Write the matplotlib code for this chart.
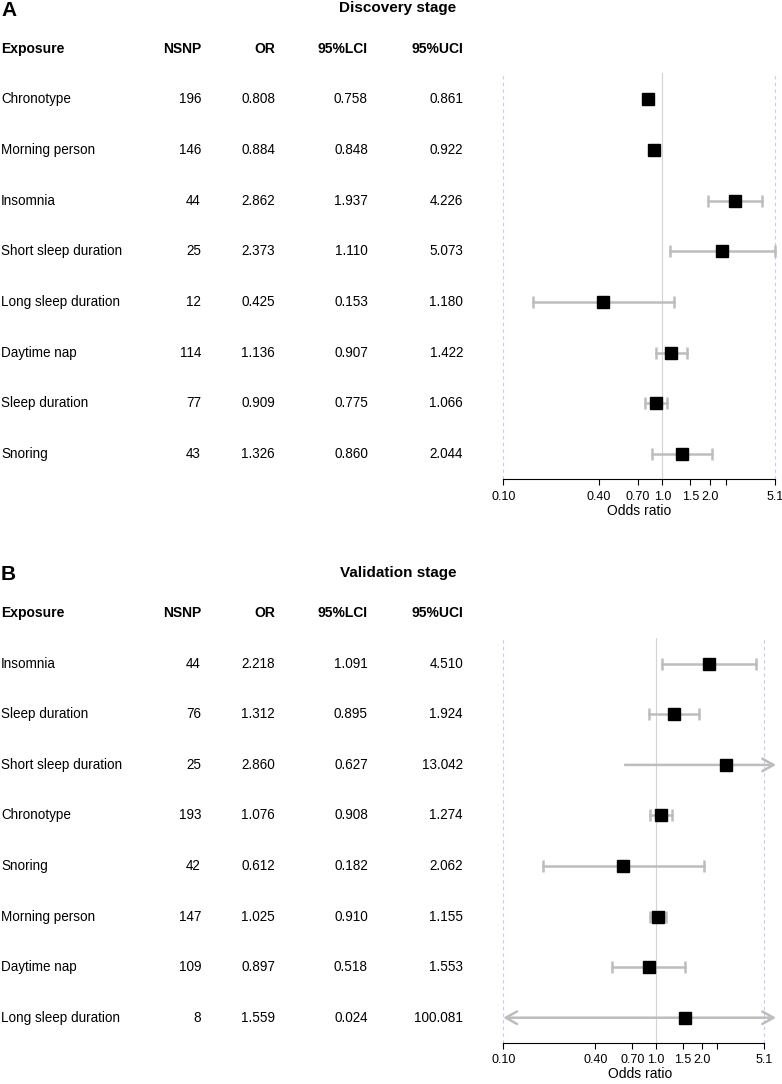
import numpy as np
import matplotlib
matplotlib.use("Agg")
import matplotlib.pyplot as plt
import matplotlib.transforms as mtransforms

plt.rcParams['font.family'] = ['Liberation Sans', 'DejaVu Sans']

# Discovery stage
exp_a = ["Chronotype", "Morning person", "Insomnia", "Short sleep duration",
         "Long sleep duration", "Daytime nap", "Sleep duration", "Snoring"]
nsnp_a = [196, 146, 44, 25, 12, 114, 77, 43]
or_a = [0.808, 0.884, 2.862, 2.373, 0.425, 1.136, 0.909, 1.326]
lci_a = [0.758, 0.848, 1.937, 1.110, 0.153, 0.907, 0.775, 0.860]
uci_a = [0.861, 0.922, 4.226, 5.073, 1.180, 1.422, 1.066, 2.044]

# Validation stage
exp_b = ["Insomnia", "Sleep duration", "Short sleep duration", "Chronotype",
         "Snoring", "Morning person", "Daytime nap", "Long sleep duration"]
nsnp_b = [44, 76, 25, 193, 42, 147, 109, 8]
or_b = [2.218, 1.312, 2.860, 1.076, 0.612, 1.025, 0.897, 1.559]
lci_b = [1.091, 0.895, 0.627, 0.908, 0.182, 0.910, 0.518, 0.024]
uci_b = [4.510, 1.924, 13.042, 1.274, 2.062, 1.155, 1.553, 100.081]

ticks = [0.10, 0.40, 0.70, 1.0, 1.5, 2.0, 2.5, 5.1]
tick_labels = ["0.10", "0.40", "0.70", "1.0", "1.5", "2.0", "", "5.1"]
x_lo, x_hi = 0.10, 5.1

W, H = 782, 1084
GRAY = "#bdbdbd"
fig = plt.figure(figsize=(W / 100, H / 100), dpi=100)


def px_axes(left, right, top, bottom):
    return fig.add_axes([left / W, 1 - bottom / H, (right - left) / W, (bottom - top) / H])


def panel(ax, letter, title, exp, nsnp, ors, lci, uci, xmax, ytop):
    n = len(exp)
    ax.set_xscale("log")
    ax.set_xlim(x_lo, xmax)
    ax.set_ylim(n - 0.5, ytop)
    for s in ["top", "right", "left"]:
        ax.spines[s].set_visible(False)
    ax.spines["bottom"].set_bounds(x_lo, x_hi)
    ax.set_yticks([])
    ax.set_xticks(ticks)
    ax.minorticks_off()
    ax.set_xticklabels(tick_labels)
    ax.tick_params(axis="x", length=4, width=0.8, pad=4, labelsize=9)
    ax.set_xlabel("Odds ratio", fontsize=10, labelpad=1)

    ax.axvline(1.0, color="#d3d3d3", lw=0.8, zorder=1)
    for v in (x_lo, x_hi):
        ax.axvline(v, color="#c8c8f5", lw=0.8, ls=(0, (3, 3)), zorder=1, clip_on=False)

    y = np.arange(n)
    for i in range(n):
        lo_clip = lci[i] < x_lo
        hi_clip = uci[i] > x_hi
        lo = x_lo if lo_clip else lci[i]
        hi = xmax if hi_clip else uci[i]
        if lo_clip or hi_clip:
            style = "<->" if (lo_clip and hi_clip) else ("->" if hi_clip else "<-")
            ax.annotate("", xy=(hi, y[i]), xytext=(lo, y[i]),
                        arrowprops=dict(arrowstyle=style + ",head_length=0.8,head_width=0.45",
                                        color=GRAY, lw=1.8, shrinkA=0, shrinkB=0),
                        annotation_clip=False, zorder=2)
        else:
            ax.plot([lo, hi], [y[i], y[i]], color=GRAY, lw=1.8, zorder=2, clip_on=False)
            ax.plot([lo, hi], [y[i], y[i]], ls="none", marker="|", ms=8.5, mew=1.8,
                    color=GRAY, zorder=2, clip_on=False)
    ax.plot(ors, y, ls="none", marker="s", ms=8, color="black", zorder=3)

    tr = mtransforms.blended_transform_factory(fig.transFigure, ax.transData)
    cols = [(1, "left"), (201, "right"), (275, "right"), (368, "right"), (463, "right")]
    heads = ["Exposure", "NSNP", "OR", "95%LCI", "95%UCI"]
    for (cx, ha), h in zip(cols, heads):
        ax.text(cx / W, -1.0, h, transform=tr, ha=ha, va="center", fontsize=10, fontweight="bold")
    for i in range(n):
        vals = [exp[i], str(nsnp[i]), f"{ors[i]:.3f}", f"{lci[i]:.3f}", f"{uci[i]:.3f}"]
        for (cx, ha), v in zip(cols, vals):
            ax.text(cx / W, y[i], v, transform=tr, ha=ha, va="center", fontsize=9.75)
    ax.text(398 / W, -1.8, title, transform=tr, ha="center", va="center",
            fontsize=11, fontweight="bold")
    ax.text(1 / W, -1.76, letter, transform=tr, ha="left", va="center",
            fontsize=15, fontweight="bold")


ax_a = px_axes(503.3, 775, 73, 479.5)
panel(ax_a, "A", "Discovery stage", exp_a, nsnp_a, or_a, lci_a, uci_a, 5.1, -0.52)

# panel B plotting area runs a little past 5.1 so the arrows fit
xmax_b = x_lo * np.exp((776 - 503.3) / (764 - 503.3) * np.log(x_hi / x_lo))
ax_b = px_axes(503.3, 776, 638, 1043)
panel(ax_b, "B", "Validation stage", exp_b, nsnp_b, or_b, lci_b, uci_b, xmax_b, -0.51)

plt.savefig("out.png", dpi=100)
